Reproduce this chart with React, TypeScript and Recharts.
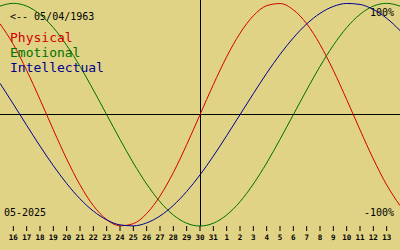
import { LineChart, Line, XAxis, YAxis, ReferenceLine, Legend } from 'recharts';

// day index 0 = 15th May, 15 = today (30th May), 30 = 14th June
const days = [0, 1, 2, 3, 4, 5, 6, 7, 8, 9, 10, 11, 12, 13, 14, 15, 16, 17, 18, 19, 20, 21, 22, 23, 24, 25, 26, 27, 28, 29, 30];

const physical = [
  0.817, 0.631, 0.398, 0.136, -0.136, -0.398, -0.631, -0.817, -0.942, -0.998, -0.979, -0.888, -0.731, -0.52, -0.27, 0,
  0.27, 0.52, 0.731, 0.888, 0.979, 0.998, 0.942, 0.817, 0.631, 0.398, 0.136, -0.136, -0.398, -0.631, -0.817,
];
const emotional = [
  0.975, 1, 0.975, 0.901, 0.782, 0.623, 0.434, 0.222, 0, -0.222, -0.434, -0.623, -0.782, -0.901, -0.975, -1,
  -0.975, -0.901, -0.782, -0.623, -0.434, -0.222, 0, 0.222, 0.434, 0.623, 0.782, 0.901, 0.975, 1, 0.975,
];
const intellectual = [
  0.282, 0.095, -0.095, -0.282, -0.458, -0.618, -0.756, -0.866, -0.945, -0.99, -0.999, -0.972, -0.91, -0.815, -0.69, -0.541,
  -0.372, -0.189, 0, 0.189, 0.372, 0.541, 0.69, 0.815, 0.91, 0.972, 0.999, 0.99, 0.945, 0.866, 0.756,
];

const tickDays = [1, 2, 3, 4, 5, 6, 7, 8, 9, 10, 11, 12, 13, 14, 15, 16, 17, 18, 19, 20, 21, 22, 23, 24, 25, 26, 27, 28, 29];
const tickLabels = [
  '16', '17', '18', '19', '20', '21', '22', '23', '24', '25', '26', '27', '28', '29', '30', '31',
  '1', '2', '3', '4', '5', '6', '7', '8', '9', '10', '11', '12', '13',
];

const series = [
  { key: 'physical', name: 'Physical', color: '#d40000' },
  { key: 'emotional', name: 'Emotional', color: '#007000' },
  { key: 'intellectual', name: 'Intellectual', color: '#000090' },
];

const data = days.map((d, i) => ({
  day: d,
  physical: physical[i],
  emotional: emotional[i],
  intellectual: intellectual[i],
}));

const mono = '"DejaVu Sans Mono", "Liberation Mono", monospace';

const renderLegend = () => (
  <div style={{ fontFamily: mono, fontSize: 13, lineHeight: '15px' }}>
    {series.map((s) => (
      <div key={s.key} style={{ color: s.color, whiteSpace: 'nowrap' }}>
        {s.name}
      </div>
    ))}
  </div>
);

export default function App() {
  return (
    <div style={{ position: 'absolute', left: 0, top: 0, width: 400, height: 250, background: '#e0d385' }}>
      <LineChart width={400} height={250} data={data} margin={{ top: 0, right: 0, bottom: 0, left: 0 }}>
        <XAxis
          dataKey="day"
          type="number"
          domain={[0, 30]}
          ticks={tickDays}
          interval={0}
          tickFormatter={(v: number) => tickLabels[v - 1]}
          height={24}
          axisLine={false}
          tickSize={5}
          tickMargin={4}
          tickLine={{ stroke: '#000' }}
          tick={{ fill: '#000', fontSize: 7.5, fontWeight: 'bold', fontFamily: mono }}
        />
        <YAxis hide domain={[-1, 1.03]} />
        <ReferenceLine y={0} stroke="#000" strokeWidth={1} shapeRendering="crispEdges" />
        <ReferenceLine x={15} stroke="#000" strokeWidth={1} shapeRendering="crispEdges" />
        <Legend
          layout="vertical"
          align="center"
          verticalAlign="middle"
          content={renderLegend}
          wrapperStyle={{ top: 30, left: 10, width: 'auto' }}
        />
        {series.map((s) => (
          <Line
            key={s.key}
            dataKey={s.key}
            name={s.name}
            type="monotone"
            stroke={s.color}
            strokeWidth={1}
            dot={false}
            activeDot={false}
            isAnimationActive={false}
          />
        ))}
        <text x={10} y={20} fontSize={10} fontFamily={mono} fill="#000">
          {'<-- 05/04/1963'}
        </text>
        <text x={394} y={16} fontSize={10} fontFamily={mono} fill="#000" textAnchor="end">
          100%
        </text>
        <text x={394} y={216} fontSize={10} fontFamily={mono} fill="#000" textAnchor="end">
          -100%
        </text>
        <text x={4} y={216} fontSize={10} fontFamily={mono} fill="#000">
          05-2025
        </text>
      </LineChart>
    </div>
  );
}
